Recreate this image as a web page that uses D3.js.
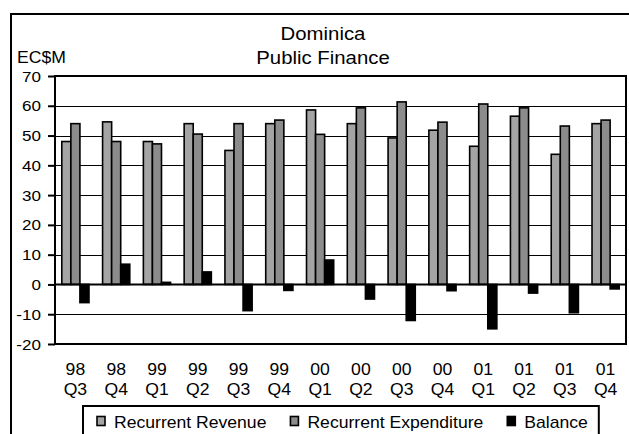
<!DOCTYPE html>
<html>
<head>
<meta charset="utf-8">
<script src="https://cdn.jsdelivr.net/npm/d3@7/dist/d3.min.js"></script>
<style>
  html, body { margin: 0; padding: 0; background: #fff; }
  svg { display: block; }
  text { font-family: "Liberation Sans", Arial, sans-serif; fill: #000; }
</style>
</head>
<body>
<svg id="chart" width="629" height="434"></svg>
<script>
// Quarterly public finance figures, EC$ millions
const years    = ["98","98","99","99","99","99","00","00","00","00","01","01","01","01"];
const quarters = ["Q3","Q4","Q1","Q2","Q3","Q4","Q1","Q2","Q3","Q4","Q1","Q2","Q3","Q4"];
const revenue     = [48.0, 54.6, 48.0, 54.0, 45.0, 54.0, 58.6, 54.0, 49.2, 51.8, 46.4, 56.5, 43.7, 54.0];
const expenditure = [54.0, 48.0, 47.2, 50.5, 54.0, 55.2, 50.4, 59.3, 61.3, 54.5, 60.6, 59.3, 53.2, 55.2];
const balance     = [-6.1, 6.8, 0.7, 4.2, -8.8, -2.0, 8.2, -4.9, -12.1, -2.1, -14.9, -2.9, -9.5, -1.5];
const seriesNames = ["Recurrent Revenue", "Recurrent Expenditure", "Balance"];
const seriesFills = ["#a4a4a4", "#8c8c8c", "#000000"];
const yTicks = [-20, -10, 0, 10, 20, 30, 40, 50, 60, 70];

const titleLines = ["Dominica", "Public Finance"];
const unitLabel = "EC$M";

const svg = d3.select("#chart");
const SX = 1.1; // horizontal stretch of the lettering

function label(g, x, y, str, size, anchor) {
  return g.append("text")
    .attr("transform", `translate(${x},${y}) scale(${SX},1)`)
    .attr("text-anchor", anchor)
    .style("font-size", size + "px")
    .text(str);
}

const plot = { left: 55, right: 626, top: 76, bottom: 344 };
const cats = years.map((y, i) => y + " " + quarters[i]);

const x = d3.scaleBand().domain(cats).range([plot.left, plot.right]).paddingInner(0).paddingOuter(0);
const bw = x.bandwidth();
const groupW = bw * 3 / 4.5; // 150% gap between clusters
const xs = d3.scaleBand().domain(seriesNames).range([(bw - groupW) / 2, (bw + groupW) / 2]);
const y = d3.scaleLinear().domain([-20, 70]).range([plot.bottom, plot.top]);

// outer chart frame (continues past the right and bottom edges)
svg.append("path")
  .attr("d", `M11,440 V14 H640`)
  .attr("fill", "none").attr("stroke", "#000").attr("stroke-width", 2);

// title
label(svg, 323, 40, titleLines[0], 18.5, "middle");
label(svg, 323, 64, titleLines[1], 18.5, "middle");
label(svg, 17, 63, unitLabel, 16, "start");

// gridlines
svg.append("g").selectAll("line")
  .data(yTicks.filter(t => t > -20 && t < 70))
  .join("line")
  .attr("x1", plot.left).attr("x2", plot.right)
  .attr("y1", d => Math.round(y(d)) + 0.5).attr("y2", d => Math.round(y(d)) + 0.5)
  .attr("stroke", "#000").attr("stroke-width", 1);

// y axis
const yAxis = svg.append("g")
  .attr("transform", `translate(${plot.left},0)`)
  .call(d3.axisLeft(y).tickValues(yTicks).tickSize(7).tickFormat(""));
yAxis.select(".domain").remove();
yAxis.selectAll(".tick line").attr("stroke", "#000").attr("stroke-width", 2);
yTicks.forEach(t => label(svg, 41, y(t) + 5.5, String(t), 15.5, "end"));

// bars
const series = [revenue, expenditure, balance];
series.forEach((vals, si) => {
  svg.append("g").selectAll("rect")
    .data(vals)
    .join("rect")
    .attr("x", (d, i) => x(cats[i]) + xs(seriesNames[si]))
    .attr("width", xs.bandwidth())
    .attr("y", d => y(Math.max(0, d)))
    .attr("height", d => Math.abs(y(d) - y(0)))
    .attr("fill", seriesFills[si])
    .attr("stroke", "#000")
    .attr("stroke-width", 1.6);
});

// zero line
svg.append("line")
  .attr("x1", plot.left).attr("x2", plot.right)
  .attr("y1", y(0)).attr("y2", y(0))
  .attr("stroke", "#000").attr("stroke-width", 2);

// plot border
svg.append("rect")
  .attr("x", plot.left).attr("y", plot.top)
  .attr("width", plot.right - plot.left).attr("height", plot.bottom - plot.top)
  .attr("fill", "none").attr("stroke", "#000").attr("stroke-width", 2);

// category labels
cats.forEach((c, i) => {
  const cx = x(c) + bw / 2;
  label(svg, cx, 375, years[i], 16, "middle");
  label(svg, cx, 395, quarters[i], 16, "middle");
});

// legend
const legend = svg.append("g");
const legendBox = legend.append("rect")
  .attr("fill", "#fff").attr("stroke", "#000").attr("stroke-width", 2);
let lx = 97;
seriesNames.forEach((name, i) => {
  legend.append("rect")
    .attr("x", lx).attr("y", 416.5).attr("width", 8).attr("height", 9)
    .attr("fill", seriesFills[i]).attr("stroke", "#000").attr("stroke-width", 1.6);
  const t = label(legend, lx + 17, 427.5, name, 16, "start");
  const w = t.node().getComputedTextLength() * SX;
  lx = lx + 17 + w + (i < seriesNames.length - 1 ? 24 : 0);
});
legendBox.attr("x", 83).attr("y", 406).attr("width", lx + 11 - 83).attr("height", 60);
</script>
</body>
</html>
